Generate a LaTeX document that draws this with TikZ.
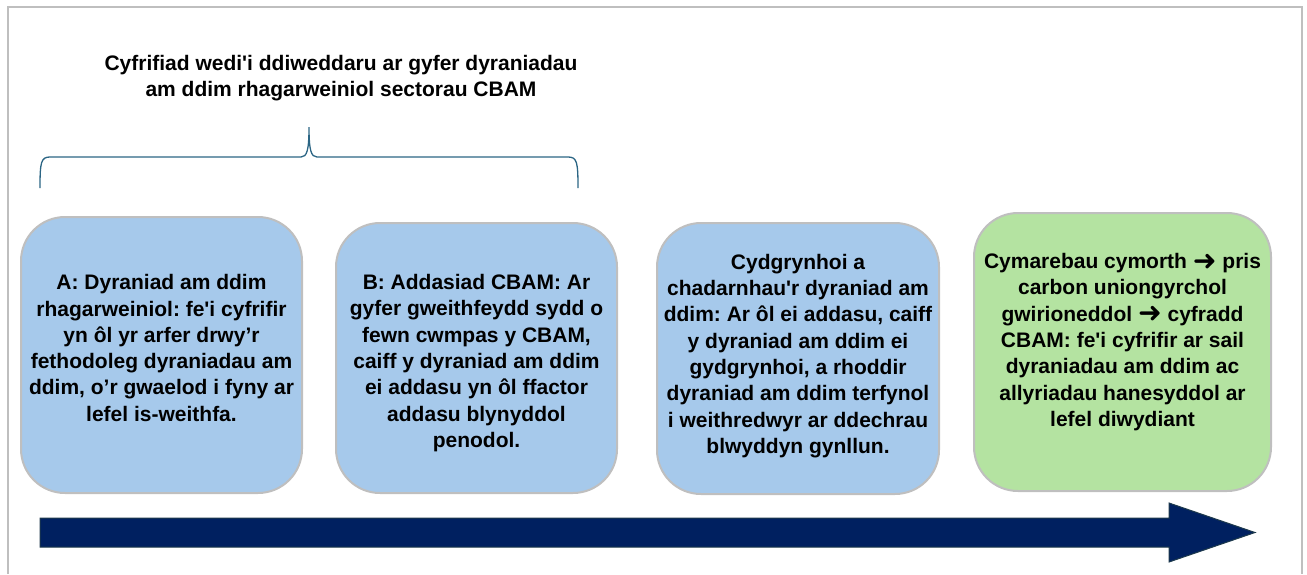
\documentclass[tikz,border=0pt]{standalone}
\usepackage{fontspec}
\setmainfont{Liberation Sans}
\newfontfamily\symfont{DejaVu Sans}
\usepackage{graphicx}
\usepackage{tikz}
\frenchspacing

\definecolor{stageblue}{HTML}{A6C9EB}
\definecolor{stagegreen}{HTML}{B4E3A1}
\definecolor{framegray}{HTML}{BFBFBF}
\definecolor{bracecol}{HTML}{2B6584}
\definecolor{navy}{HTML}{002060}
\definecolor{navyedge}{HTML}{1E3A4C}

\newcommand{\sarrow}{\raisebox{-1.5pt}{\scalebox{1.35}{\symfont\bfseries ➜}}}
\newcommand{\sq}{\textquotesingle{}}

\begin{document}
\begin{tikzpicture}[x=1pt,y=-1pt,
    stage/.style={draw=framegray, line width=2pt, rounded corners=44pt, inner sep=0pt},
    stagetext/.style={align=center, inner sep=0pt, font=\fontsize{21}{26.3}\selectfont\bfseries}]
    \useasboundingbox (0,0) rectangle (1307,574);

    % draws frame
    \draw[framegray, line width=2pt] (8,574) -- (8,7) -- (1302,7) -- (1302,574);

    % draws title and brace
    \node[stagetext] (title) at (341,78) {Cyfrifiad wedi\sq i ddiweddaru ar gyfer dyraniadau\\am ddim rhagarweiniol sectorau CBAM};
    \draw[bracecol, line width=1.3pt] (40,188) .. controls (40,162) and (41,157) .. (50,157) -- (301,157)
        .. controls (307,157) and (309,150) .. (309,127)
        .. controls (309,150) and (311,157) .. (317,157) -- (568,157)
        .. controls (577,157) and (578,162) .. (578,188);

    % draws boxes
    \node[stage, fill=stageblue, minimum width=281pt, minimum height=276pt] (a) at (161.5,355) {};
    \node[stage, fill=stageblue, minimum width=281pt, minimum height=270pt] (b) at (476.5,358) {};
    \node[stage, fill=stageblue, minimum width=282pt, minimum height=271pt] (c) at (798,358.5) {};
    \node[stage, fill=stagegreen, minimum width=297pt, minimum height=278pt] (d) at (1122.5,352) {};

    % labels boxes
    \node[stagetext] (ta) at ([yshift=7pt]a.center) {A: Dyraniad am ddim\\rhagarweiniol: fe\sq i cyfrifir\\yn ôl yr arfer drwy’r\\fethodoleg dyraniadau am\\ddim, o’r gwaelod i fyny ar\\lefel is-weithfa.};
    \node[stagetext] (tb) at ([yshift=-5pt]b.center) {B: Addasiad CBAM: Ar\\gyfer gweithfeydd sydd o\\fewn cwmpas y CBAM,\\caiff y dyraniad am ddim\\ei addasu yn ôl ffactor\\addasu blynyddol\\penodol.};
    \node[stagetext] (tc) at ([yshift=2.5pt]c.center) {Cydgrynhoi a\\chadarnhau\sq r dyraniad am\\ddim: Ar ôl ei addasu, caiff\\y dyraniad am ddim ei\\gydgrynhoi, a rhoddir\\dyraniad am ddim terfynol\\i weithredwyr ar ddechrau\\blwyddyn gynllun.};
    \node[stagetext] (td) at ([yshift=10pt]d.center) {Cymarebau cymorth \sarrow{} pris\\carbon uniongyrchol\\gwirioneddol \sarrow{} cyfradd\\CBAM: fe\sq i cyfrifir ar sail\\dyraniadau am ddim ac\\allyriadau hanesyddol ar\\lefel diwydiant};

    % draws timeline arrow
    \filldraw[fill=navy, draw=navyedge, line width=1pt] (40,518) -- (1169,518) -- (1169,503) -- (1255,532.5)
        -- (1169,562) -- (1169,547) -- (40,547) -- cycle;
\end{tikzpicture}
\end{document}
